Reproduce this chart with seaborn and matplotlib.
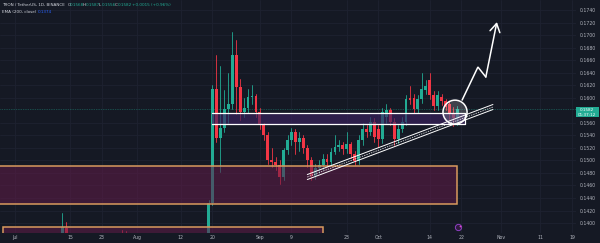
import numpy as np
import pandas as pd
import matplotlib
matplotlib.use("Agg")
import matplotlib.pyplot as plt
import seaborn as sns
from matplotlib.patches import Rectangle, Ellipse

# ---------------- data (TRX/USDT daily) ----------------
dates = ["2024-07-13", "2024-07-14", "2024-07-28", "2024-07-29",
         "2024-08-19", "2024-08-20", "2024-08-21", "2024-08-22", "2024-08-23", "2024-08-24",
         "2024-08-25", "2024-08-26", "2024-08-27", "2024-08-28", "2024-08-29", "2024-08-30",
         "2024-08-31", "2024-09-01", "2024-09-02", "2024-09-03", "2024-09-04", "2024-09-05",
         "2024-09-06", "2024-09-07", "2024-09-08", "2024-09-09", "2024-09-10", "2024-09-11",
         "2024-09-12", "2024-09-13", "2024-09-14", "2024-09-15", "2024-09-16", "2024-09-17",
         "2024-09-18", "2024-09-19", "2024-09-20", "2024-09-21", "2024-09-22", "2024-09-23",
         "2024-09-24", "2024-09-25", "2024-09-26", "2024-09-27", "2024-09-28", "2024-09-29",
         "2024-09-30", "2024-10-01", "2024-10-02", "2024-10-03", "2024-10-04", "2024-10-05",
         "2024-10-06", "2024-10-07", "2024-10-08", "2024-10-09", "2024-10-10", "2024-10-11",
         "2024-10-12", "2024-10-13", "2024-10-14", "2024-10-15", "2024-10-16", "2024-10-17",
         "2024-10-18", "2024-10-19", "2024-10-20", "2024-10-21"]
opens = [0.1320, 0.1392, 0.1335, 0.1330,
         0.1384, 0.1432, 0.1614, 0.1536, 0.1552, 0.1582,
         0.1590, 0.1668, 0.1617, 0.1578, 0.1584, 0.1601,
         0.1603, 0.1578, 0.1556, 0.1540, 0.1501, 0.1497,
         0.1493, 0.1474, 0.1516, 0.1532, 0.1546, 0.1530,
         0.1536, 0.1520, 0.1501, 0.1475, 0.1488, 0.1492,
         0.1503, 0.1497, 0.1514, 0.1522, 0.1525, 0.1518,
         0.1526, 0.1510, 0.1499, 0.1532, 0.1550, 0.1546,
         0.1562, 0.1550, 0.1534, 0.1570, 0.1580, 0.1562,
         0.1534, 0.1550, 0.1562, 0.1600, 0.1600, 0.1582,
         0.1598, 0.1612, 0.1628, 0.1604, 0.1587, 0.1601,
         0.1594, 0.1590, 0.1575, 0.1568]
highs = [0.1416, 0.1402, 0.1389, 0.1387,
         0.1436, 0.1620, 0.1668, 0.1650, 0.1612, 0.1640,
         0.1705, 0.1692, 0.1630, 0.1600, 0.1614, 0.1620,
         0.1606, 0.1584, 0.1560, 0.1545, 0.1520, 0.1505,
         0.1500, 0.1520, 0.1540, 0.1552, 0.1550, 0.1545,
         0.1540, 0.1525, 0.1505, 0.1495, 0.1500, 0.1510,
         0.1510, 0.1520, 0.1540, 0.1532, 0.1530, 0.1545,
         0.1530, 0.1515, 0.1540, 0.1560, 0.1556, 0.1570,
         0.1568, 0.1556, 0.1584, 0.1590, 0.1584, 0.1568,
         0.1556, 0.1570, 0.1604, 0.1618, 0.1606, 0.1605,
         0.1640, 0.1628, 0.1640, 0.1610, 0.1610, 0.1606,
         0.1598, 0.1594, 0.1585, 0.1587]
lows = [0.1310, 0.1330, 0.1310, 0.1305,
        0.1376, 0.1428, 0.1530, 0.1482, 0.1545, 0.1560,
        0.1582, 0.1574, 0.1565, 0.1570, 0.1576, 0.1590,
        0.1570, 0.1550, 0.1532, 0.1495, 0.1490, 0.1485,
        0.1463, 0.1468, 0.1510, 0.1525, 0.1510, 0.1515,
        0.1512, 0.1490, 0.1468, 0.1470, 0.1480, 0.1485,
        0.1490, 0.1492, 0.1510, 0.1515, 0.1510, 0.1512,
        0.1504, 0.1493, 0.1495, 0.1525, 0.1538, 0.1540,
        0.1530, 0.1522, 0.1528, 0.1560, 0.1556, 0.1525,
        0.1528, 0.1545, 0.1556, 0.1590, 0.1576, 0.1576,
        0.1592, 0.1606, 0.1598, 0.1580, 0.1580, 0.1588,
        0.1580, 0.1566, 0.1555, 0.1556]
closes = [0.1394, 0.1340, 0.1320, 0.1315,
          0.1432, 0.1614, 0.1536, 0.1552, 0.1582, 0.1590,
          0.1668, 0.1617, 0.1578, 0.1584, 0.1601, 0.1603,
          0.1578, 0.1556, 0.1540, 0.1501, 0.1497, 0.1493,
          0.1474, 0.1516, 0.1532, 0.1546, 0.1530, 0.1536,
          0.1520, 0.1501, 0.1475, 0.1488, 0.1492, 0.1502,
          0.1497, 0.1514, 0.1522, 0.1525, 0.1518, 0.1526,
          0.1510, 0.1499, 0.1532, 0.1550, 0.1546, 0.1562,
          0.1537, 0.1534, 0.1578, 0.1580, 0.1562, 0.1534,
          0.1550, 0.1562, 0.1598, 0.1596, 0.1582, 0.1598,
          0.1614, 0.1618, 0.1604, 0.1587, 0.1604, 0.1594,
          0.1585, 0.1575, 0.1567, 0.1582]

price_ticks = [0.1400, 0.1420, 0.1440, 0.1460, 0.1480, 0.1500, 0.1520, 0.1540, 0.1560,
               0.1600, 0.1620, 0.1640, 0.1660, 0.1680, 0.1700, 0.1720, 0.1740]
date_tick_dates = ["2024-07-01", "2024-07-15", "2024-07-23", "2024-08-01", "2024-08-12",
                   "2024-08-20", "2024-09-01", "2024-09-09", "2024-09-23", "2024-10-01",
                   "2024-10-14", "2024-10-22", "2024-11-01", "2024-11-11", "2024-11-19"]
date_tick_labels = ["Jul", "15", "23", "Aug", "12", "20", "Sep", "9", "23", "Oct",
                    "14", "22", "Nov", "11", "19"]

# drawings (zones, trend channel, circle, arrow) in date / price units
big_zone = ("2024-06-20", "2024-10-21", 0.1430, 0.1491)
low_zone = ("2024-06-28", "2024-09-17", 0.1300, 0.1394)
mid_zone = ("2024-08-20", "2024-10-23", 0.1558, 0.1576)
trend_dates = ["2024-09-13", "2024-10-30"]
trend_prices = [0.14734, 0.15852]
circle_center = ("2024-10-20", 0.1577)
arrow_days = [113.2, 117.2, 119.2, 122.0]
arrow_prices = [0.15963, 0.16490, 0.16331, 0.17208]
icon_date = "2024-10-21"
last_price = 0.1582
ema_value = "0.1374"

# ---------------- style ----------------
BG = "#151924"
UP = "#22ab94"
DN = "#f23645"
GRID = "#1e2230"
TXT = "#b2b5be"

sns.set_theme(style="dark")
plt.rcParams["font.family"] = ["DejaVu Sans"]

origin = pd.Timestamp("2024-07-01")


def dnum(s):
    return (pd.Timestamp(s) - origin).days


df = pd.DataFrame(dict(date=pd.to_datetime(dates), open=opens, high=highs,
                       low=lows, close=closes))
df["d"] = (df["date"] - origin).dt.days
df["dir"] = np.where(df["close"] >= df["open"], "up", "down")
df["id"] = np.arange(len(df))
lo = np.minimum(df["open"], df["close"]).to_numpy()
hi = np.maximum(df["open"], df["close"]).to_numpy()
small = (hi - lo) < 0.00014
mid = (hi + lo) / 2
lo = np.where(small, mid - 0.00007, lo)
hi = np.where(small, mid + 0.00007, hi)

wick = pd.concat([df.assign(price=df["low"]), df.assign(price=df["high"])])
pal = {"up": UP, "down": DN}

fig = plt.figure(figsize=(6, 2.43), dpi=100, facecolor=BG)
ax = fig.add_axes([0, 10 / 243, 576 / 600, 233 / 243])
ax.set_facecolor(BG)

# wicks via seaborn
sns.lineplot(data=wick, x="d", y="price", units="id", estimator=None, hue="dir",
             palette=pal, linewidth=0.6, legend=False, ax=ax, sort=False, zorder=2)
# bodies
body_colors = [pal[k] for k in df["dir"]]
ax.bar(df["d"], hi - lo, bottom=lo, width=0.72, color=body_colors, linewidth=0,
       zorder=2.5)

# zones
x0, x1, p0, p1 = big_zone
ax.add_patch(Rectangle((dnum(x0), p0), dnum(x1) - dnum(x0), p1 - p0,
                       facecolor="#611b48", alpha=0.55, edgecolor="none", zorder=3))
ax.add_patch(Rectangle((dnum(x0), p0), dnum(x1) - dnum(x0), p1 - p0,
                       facecolor="none", edgecolor="#d99a5e", lw=1.1, zorder=4))
x0, x1, p0, p1 = low_zone
ax.add_patch(Rectangle((dnum(x0), p0), dnum(x1) - dnum(x0), p1 - p0,
                       facecolor="#611b48", alpha=0.55, edgecolor="none", zorder=3))
ax.add_patch(Rectangle((dnum(x0), p0), dnum(x1) - dnum(x0), p1 - p0,
                       facecolor="none", edgecolor="#d99a5e", lw=1.1, zorder=4))
x0, x1, p0, p1 = mid_zone
ax.add_patch(Rectangle((dnum(x0), p0), dnum(x1) - dnum(x0), p1 - p0,
                       facecolor="#3a2260", alpha=0.65, edgecolor="none", zorder=3))
ax.plot([dnum(x0), dnum(x1), dnum(x1), dnum(x0)], [p1, p1, p0, p0],
        color="white", lw=0.9, zorder=4)

# trend channel
td = [dnum(t) for t in trend_dates]
for off in (-0.0004, 0.0004):
    ax.plot(td, [p + off for p in trend_prices], color="white", lw=0.7, zorder=5)
ax.plot(td, trend_prices, color="white", lw=0.5, ls=(0, (2, 1.5)), zorder=5)

# circle
cd, cp = circle_center
ax.add_patch(Ellipse((dnum(cd) + 0.4, cp), 6.1, 0.00383, facecolor="white", alpha=0.18,
                     edgecolor="none", zorder=5))
ax.add_patch(Ellipse((dnum(cd) + 0.4, cp), 6.1, 0.00383, facecolor="none",
                     edgecolor="white", lw=1.1, zorder=6))

# arrow
ax.plot(arrow_days[:3], arrow_prices[:3], color="white", lw=1.1, zorder=6,
        solid_capstyle="round", solid_joinstyle="miter")
ax.annotate("", xy=(arrow_days[3], arrow_prices[3]), xytext=(arrow_days[2], arrow_prices[2]),
            arrowprops=dict(arrowstyle="->,head_length=0.5,head_width=0.3", color="white",
                            lw=1.1, shrinkA=0, shrinkB=0), zorder=6)

# last price line
ax.axhline(last_price, color=UP, lw=0.5, ls=(0, (1, 1.5)), alpha=0.7, zorder=1)

# idea icon
ax.plot([dnum(icon_date) + 0.1], [0.13936], marker="o", ms=4.5, mfc="#2e1b3d",
        mec="#8e3fc4", mew=0.7, zorder=6)
ax.plot([dnum(icon_date) + 0.6], [0.13960], marker="o", ms=1.3, mfc="#e048c8",
        mec="none", zorder=7)

# axes
ax.set_xlim(-3.80, 142.03)
ax.set_ylim(0.13841, 0.17560)
ax.set_xticks([dnum(t) for t in date_tick_dates])
ax.set_xticklabels(date_tick_labels)
ax.set_yticks(price_ticks)
ax.set_yticklabels([f"{p:.4f}" for p in price_ticks])
ax.yaxis.tick_right()
ax.tick_params(axis="both", length=0, labelsize=3.3, labelcolor=TXT)
ax.tick_params(axis="x", pad=1.2)
ax.tick_params(axis="y", pad=2.5)
ax.set_xlabel("")
ax.set_ylabel("")
ax.grid(True, color=GRID, lw=0.6)
ax.set_axisbelow(True)
for s in ax.spines.values():
    s.set_visible(False)


# header text
def ftxt(xp, yp, s, color, size=3.0, **kw):
    fig.text(xp / 600, 1 - yp / 243, s, color=color, fontsize=size, va="center",
             ha="left", **kw)


ftxt(2, 5, "TRON / TetherUS, 1D, BINANCE", "#d1d4dc")
for letter, val, xp in [("O", "0.1568", 67.5), ("H", "0.1587", 83),
                        ("L", "0.1556", 99), ("C", "0.1582", 115)]:
    ftxt(xp, 5, letter, "#d1d4dc")
    ftxt(xp + 2.3, 5, val, UP)
ftxt(132, 5, "+0.0015 (+0.96%)", UP)
ftxt(2, 12, "EMA (200, close)", "#d1d4dc")
ftxt(38, 12, ema_value, "#2962ff")

# last price label
fig.patches.append(Rectangle((576 / 600, 1 - 117.3 / 243), 22.5 / 600, 10.6 / 243,
                             transform=fig.transFigure, facecolor=UP, edgecolor="none"))
fig.text(587.3 / 600, 1 - 109.8 / 243, f"{last_price:.4f}", color="white", fontsize=3.0,
         ha="center", va="center")
fig.text(587.3 / 600, 1 - 114.6 / 243, "01:37:12", color="white", fontsize=3.0,
         ha="center", va="center")

fig.savefig("out.png", dpi=100, facecolor=BG)
